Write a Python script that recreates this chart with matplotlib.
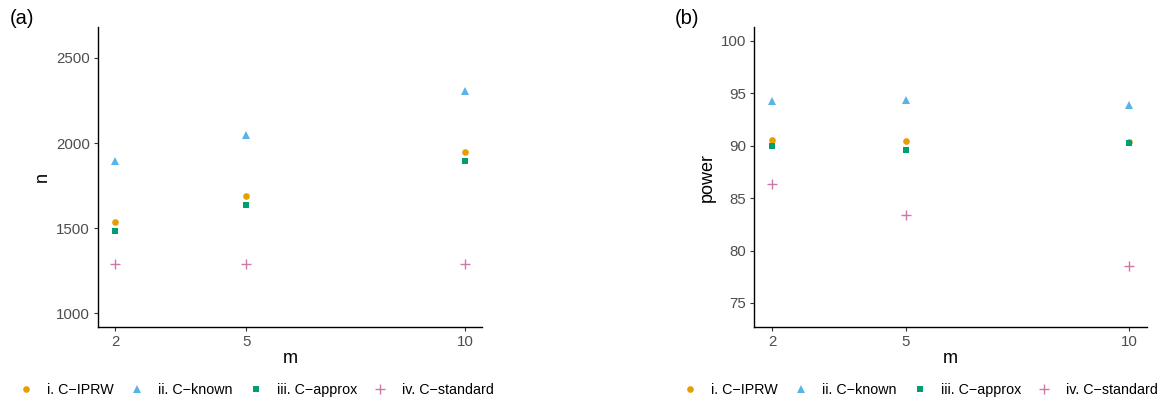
import matplotlib
matplotlib.use("Agg")
import matplotlib.pyplot as plt

plt.rcParams["font.family"] = ["Liberation Sans", "DejaVu Sans"]

# design values of m and the four methods
m_values = [2, 5, 10]
methods = ["i. C\u2212IPRW", "ii. C\u2212known", "iii. C\u2212approx", "iv. C\u2212standard"]

# required sample size n per method
n_iprw = [1535, 1690, 1947]
n_known = [1895, 2050, 2308]
n_approx = [1485, 1637, 1895]
n_standard = [1289, 1289, 1289]

# empirical power (%) per method
power_iprw = [90.54, 90.45, 90.40]
power_known = [94.30, 94.33, 93.86]
power_approx = [89.94, 89.56, 90.30]
power_standard = [86.30, 83.37, 78.50]

colors = ["#E69F00", "#56B4E9", "#009E73", "#CC79A7"]
markers = ["o", "^", "s", "+"]
sizes = [4.8, 5.6, 5.0, 7.0]

W, H = 1168, 404


def px_axes(fig, x0, y0, x1, y1):
    """Add axes from pixel box (top-left origin)."""
    return fig.add_axes([x0 / W, 1 - y1 / H, (x1 - x0) / W, (y1 - y0) / H])


def style(ax):
    for side in ("top", "right"):
        ax.spines[side].set_visible(False)
    for side in ("left", "bottom"):
        ax.spines[side].set_linewidth(1.0)
        ax.spines[side].set_color("black")
    ax.tick_params(colors="#333333", labelcolor="#4D4D4D", labelsize=10.8,
                   length=3.2, width=0.8, pad=2.5)


def draw_panel(ax, series, ylabel):
    for vals, label, c, mk, ms in zip(series, methods, colors, markers, sizes):
        ax.plot(m_values, vals, linestyle="none", marker=mk, color=c,
                markersize=ms, markeredgewidth=1.0 if mk == "+" else 0,
                label=label)
    ax.set_xticks(m_values)
    ax.set_xlim(1.6, 10.4)
    ax.set_xlabel("m", fontsize=13, labelpad=1)
    ax.set_ylabel(ylabel, fontsize=13, labelpad=4)
    style(ax)


fig = plt.figure(figsize=(W / 100, H / 100), dpi=100)

ax_a = px_axes(fig, 97.7, 27.3, 482.3, 327)
draw_panel(ax_a, [n_iprw, n_known, n_approx, n_standard], "n")
ax_a.set_ylim(920, 2680)
ax_a.set_yticks([1000, 1500, 2000, 2500])

ax_b = px_axes(fig, 754.3, 27.3, 1146.7, 327)
draw_panel(ax_b, [power_iprw, power_known, power_approx, power_standard], "power")
ax_b.set_ylim(72.7, 101.3)
ax_b.set_yticks([75, 80, 85, 90, 95, 100])

fig.text(10 / W, 1 - 18 / H, "(a)", fontsize=14.5, va="center", ha="left")
fig.text(675 / W, 1 - 18 / H, "(b)", fontsize=14.5, va="center", ha="left")

for ax, cx in ((ax_a, 256), (ax_b, 920)):
    handles, labels = ax.get_legend_handles_labels()
    fig.legend(handles, labels, loc="center", bbox_to_anchor=(cx / W, 1 - 390 / H),
               ncol=4, frameon=False, fontsize=10.3, handlelength=1.0,
               handletextpad=1.0, columnspacing=1.1, borderpad=0)

fig.savefig("out.png", dpi=100)
